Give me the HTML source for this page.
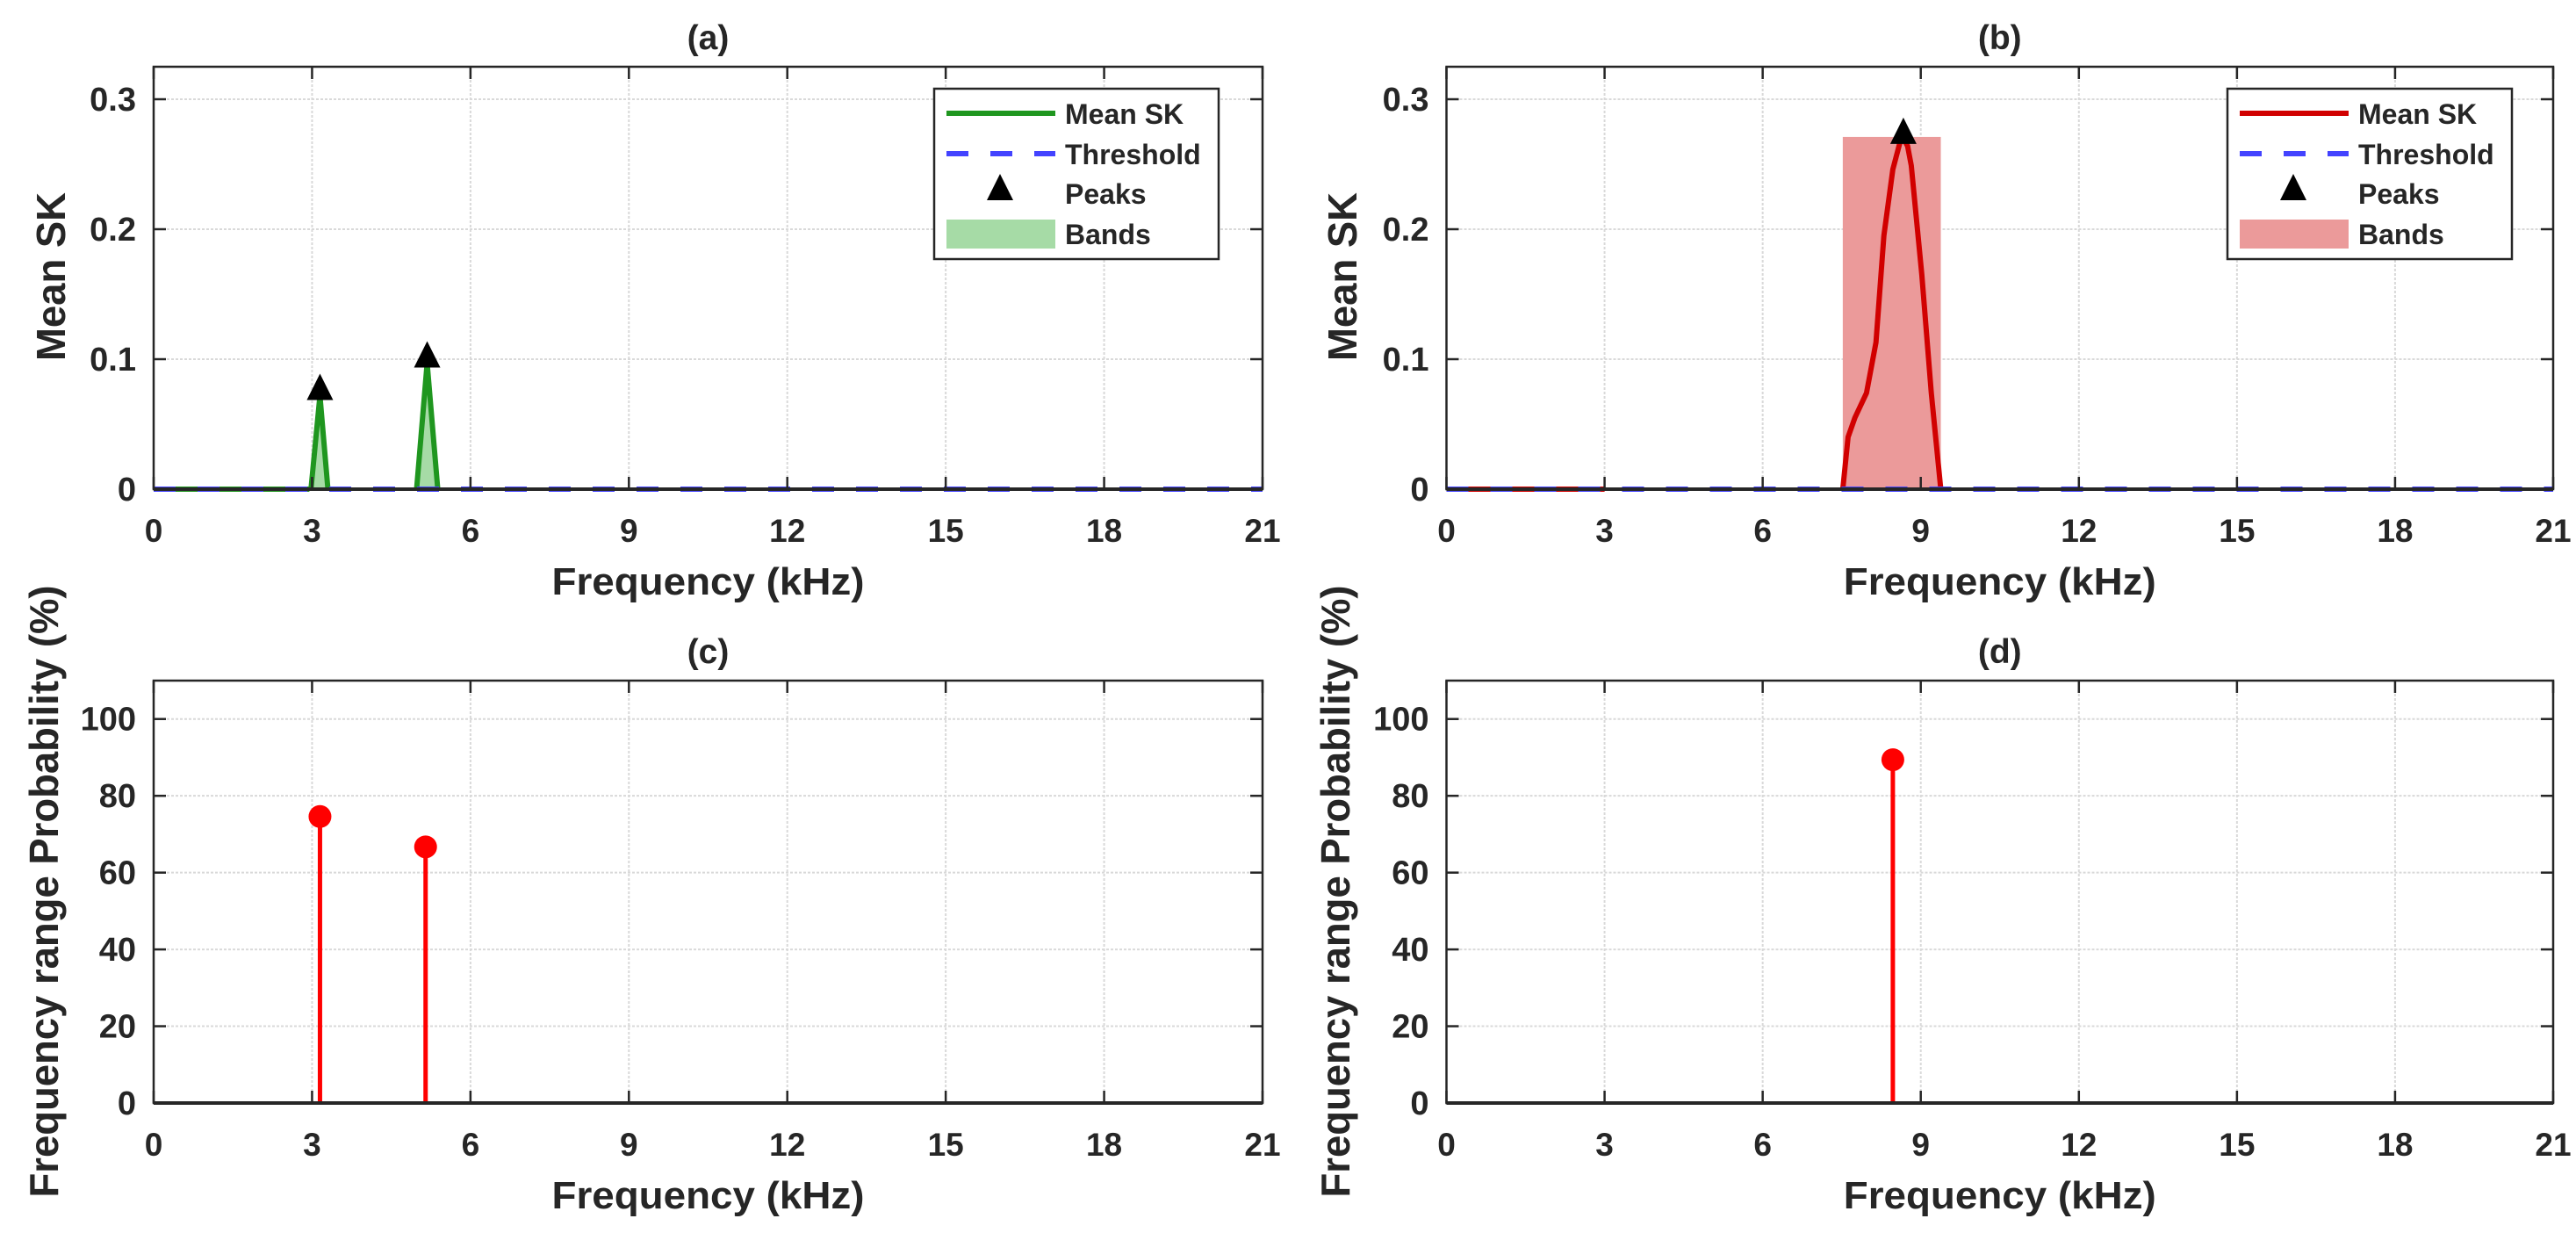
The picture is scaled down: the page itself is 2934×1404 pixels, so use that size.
<!DOCTYPE html>
<html><head><meta charset="utf-8">
<style>
html,body{margin:0;padding:0;background:#fff;}
svg{display:block;}
text{font-family:"Liberation Sans",Arial,sans-serif;font-weight:bold;fill:#262626;}
</style></head>
<body>
<svg id="fig" width="2934" height="1404" viewBox="0 0 2934 1404" xmlns="http://www.w3.org/2000/svg">
<rect width="2934" height="1404" fill="#fff"/>
</svg>
<script>
// ---- data ----
const xTicks = [0,3,6,9,12,15,18,21];
const skTicks = [0,0.1,0.2,0.3];
const skTickLabels = ["0","0.1","0.2","0.3"];
const probTicks = [0,20,40,60,80,100];
const probTickLabels = ["0","20","40","60","80","100"];
// (a) mean SK (green) segments
const aSeg1Freq = [0,2.95];
const aSeg1Val = [0,0];
const aSeg2Freq = [2.98,3.15,3.3];
const aSeg2Val = [0,0.072,0];
const aSeg3Freq = [4.98,5.18,5.38];
const aSeg3Val = [0,0.097,0];
const aPeakFreq = [3.15,5.18];
const aPeakVal = [0.074,0.099];
const aThreshold = 0;
// (b) mean SK (red)
const bSeg1Freq = [0,3.0];
const bSeg1Val = [0,0];
const bSeg2Freq = [7.52,7.62,7.75,7.97,8.15,8.3,8.47,8.6,8.67,8.75,8.82,9.02,9.2,9.38];
const bSeg2Val = [0,0.04,0.055,0.074,0.113,0.195,0.246,0.266,0.27,0.264,0.249,0.165,0.074,0];
const bBandStart = [7.52];
const bBandEnd = [9.38];
const bBandTop = [0.271];
const bPeakFreq = [8.67];
const bPeakVal = [0.271];
const bThreshold = 0;
// (c),(d) probabilities
const cFreq = [3.15,5.15];
const cProb = [74.6,66.7];
const dFreq = [8.47];
const dProb = [89.4];

const NS="http://www.w3.org/2000/svg";
const svg=document.getElementById('fig');
function mk(tag,attrs,parent){const e=document.createElementNS(NS,tag);for(const k in attrs)e.setAttribute(k,attrs[k]);(parent||svg).appendChild(e);return e;}

function makeAxes(cfg){
  const g=mk('g',{});
  
  
  const X=v=>cfg.x0+(v-0)/(21-0)*(cfg.x1-cfg.x0);
  const Y=v=>cfg.y1-(v-cfg.ymin)/(cfg.ymax-cfg.ymin)*(cfg.y1-cfg.y0);
  xTicks.forEach(t=>{const l=mk('line',{x1:X(t),x2:X(t),y1:cfg.y0,y2:cfg.y1,stroke:'#d9d9d9','stroke-width':2,'stroke-dasharray':'3,2'},g);
    
    });
  cfg.yTicks.forEach(t=>{const l=mk('line',{x1:cfg.x0,x2:cfg.x1,y1:Y(t),y2:Y(t),stroke:'#d9d9d9','stroke-width':2,'stroke-dasharray':'3,2'},g);
    
    });
  return {g,X,Y};
}
function finishAxes(cfg,ax){
  const g=ax.g,X=ax.X,Y=ax.Y;
  const box=mk('rect',{x:cfg.x0,y:cfg.y0,width:cfg.x1-cfg.x0,height:cfg.y1-cfg.y0,fill:'none',stroke:'#262626','stroke-width':2.5},g);
  
  
  mk('line',{x1:cfg.x0,x2:cfg.x1,y1:cfg.y1,y2:cfg.y1,stroke:'#262626','stroke-width':4},g);
  xTicks.forEach(t=>{
    mk('line',{x1:X(t),x2:X(t),y1:cfg.y1,y2:cfg.y1-14,stroke:'#262626','stroke-width':2.5},g);
    mk('line',{x1:X(t),x2:X(t),y1:cfg.y0,y2:cfg.y0+14,stroke:'#262626','stroke-width':2.5},g);
    const tx=mk('text',{x:X(t),y:cfg.y1+60,'font-size':37,'text-anchor':'middle'},g);
    tx.textContent=String(t);
    
    
  });
  cfg.yTicks.forEach((t,i)=>{
    mk('line',{x1:cfg.x0,x2:cfg.x0+14,y1:Y(t),y2:Y(t),stroke:'#262626','stroke-width':2.5},g);
    mk('line',{x1:cfg.x1,x2:cfg.x1-14,y1:Y(t),y2:Y(t),stroke:'#262626','stroke-width':2.5},g);
    const tx=mk('text',{x:cfg.x0-20,y:Y(t)+13,'font-size':38,'text-anchor':'end'},g);
    tx.textContent=cfg.yLabels[i];
    
    
  });
  const cx=(cfg.x0+cfg.x1)/2;
  const ti=mk('text',{x:cx,y:cfg.y0-20,'font-size':39,'text-anchor':'middle'},g);
  ti.textContent=cfg.title;
  
  
  const xl=mk('text',{x:cx,y:cfg.y1+120,'font-size':44,'text-anchor':'middle',textLength:356,lengthAdjust:'spacingAndGlyphs'},g);
  xl.textContent='Frequency (kHz)';
  
  
  const yl=mk('text',{x:0,y:0,'font-size':cfg.ylabelSize,'text-anchor':'middle',textLength:cfg.ylabelLen,lengthAdjust:'spacingAndGlyphs',transform:`translate(${cfg.ylabelX},${cfg.ylabelY}) rotate(-90)`},g);
  yl.textContent=cfg.ylabel;
  
  
}
function pathOf(fx,fy,X,Y){return fx.map((f,i)=>(i?'L':'M')+X(f).toFixed(1)+','+Y(fy[i]).toFixed(1)).join(' ');}
function tri(g,x,y,name){const p=mk('path',{d:`M${x},${y-22} L${x-15},${y+8} L${x+15},${y+8} Z`,fill:'#000'},g);
  
  }

function legend(x0,color,bandColor){
  const g=mk('g',{});
  
  
  mk('rect',{x:x0,y:101,width:324,height:194,fill:'#fff',stroke:'#262626','stroke-width':2.5},g);
  const ys=[129,175,220,266];
  const names=['Mean SK','Threshold','Peaks','Bands'];
  mk('line',{x1:x0+14,x2:x0+138,y1:ys[0],y2:ys[0],stroke:color,'stroke-width':6},g);
  mk('line',{x1:x0+14,x2:x0+138,y1:ys[1],y2:ys[1],stroke:'#4343ff','stroke-width':6,'stroke-dasharray':'25,25'},g);
  tri(g,x0+75,ys[2],'legend-peak-marker');
  mk('rect',{x:x0+14,y:ys[3]-16,width:124,height:33,fill:bandColor},g);
  names.forEach((n,i)=>{const t=mk('text',{x:x0+149,y:ys[i]+12,'font-size':32},g);t.textContent=n;
    
    });
}

// panel a
const cfgA={name:'panel-a',x0:175,x1:1438,y0:76,y1:557,ymin:0,ymax:0.325,yTicks:skTicks,yLabels:skTickLabels,title:'(a)',ylabel:'Mean SK',ylabelX:74,ylabelY:315,ylabelSize:46,ylabelLen:192};
const A=makeAxes(cfgA);
[[aSeg2Freq,aSeg2Val],[aSeg3Freq,aSeg3Val]].forEach(([f,v])=>{
  const p=mk('path',{d:pathOf(f,v,A.X,A.Y)+' Z',fill:'#a6dba6'},A.g);
  
  
});
[[aSeg1Freq,aSeg1Val],[aSeg2Freq,aSeg2Val],[aSeg3Freq,aSeg3Val]].forEach(([f,v])=>{
  const p=mk('path',{d:pathOf(f,v,A.X,A.Y),fill:'none',stroke:'#1f961f','stroke-width':6,'stroke-linejoin':'round'},A.g);
  
  
});
const thA=mk('line',{x1:A.X(0),x2:A.X(21),y1:A.Y(aThreshold),y2:A.Y(aThreshold),stroke:'#4343ff','stroke-width':6,'stroke-dasharray':'25,25'},A.g);


aPeakFreq.forEach((f,i)=>tri(A.g,A.X(f),A.Y(aPeakVal[i]),'peak-marker'));
finishAxes(cfgA,A);
legend(1064,'#1f961f','#a6dba6');

// panel b
const cfgB={name:'panel-b',x0:1647.5,x1:2908,y0:76,y1:557,ymin:0,ymax:0.325,yTicks:skTicks,yLabels:skTickLabels,title:'(b)',ylabel:'Mean SK',ylabelX:1545,ylabelY:315,ylabelSize:46,ylabelLen:192};
const B=makeAxes(cfgB);
bBandStart.forEach((s,i)=>{
  const r=mk('rect',{x:B.X(s),y:B.Y(bBandTop[i]),width:B.X(bBandEnd[i])-B.X(s),height:B.Y(0)-B.Y(bBandTop[i]),fill:'#eb9a9a'},B.g);
  
  
});
[[bSeg1Freq,bSeg1Val],[bSeg2Freq,bSeg2Val]].forEach(([f,v])=>{
  const p=mk('path',{d:pathOf(f,v,B.X,B.Y),fill:'none',stroke:'#d10000','stroke-width':6,'stroke-linejoin':'round'},B.g);
  
  
});
const thB=mk('line',{x1:B.X(0),x2:B.X(21),y1:B.Y(bThreshold),y2:B.Y(bThreshold),stroke:'#4343ff','stroke-width':6,'stroke-dasharray':'25,25'},B.g);


bPeakFreq.forEach((f,i)=>tri(B.g,B.X(f),B.Y(bPeakVal[i]),'peak-marker'));
finishAxes(cfgB,B);
legend(2537,'#d10000','#eb9a9a');

// panels c,d
function stems(cfg,freq,prob){
  const P=makeAxes(cfg);
  freq.forEach((f,i)=>{
    const l=mk('line',{x1:P.X(f),x2:P.X(f),y1:P.Y(0),y2:P.Y(prob[i]),stroke:'#ff0000','stroke-width':5},P.g);
    
    
    const c=mk('circle',{cx:P.X(f),cy:P.Y(prob[i]),r:13,fill:'#ff0000'},P.g);
    
    
  });
  finishAxes(cfg,P);
}
stems({name:'panel-c',x0:175,x1:1438,y0:775,y1:1256,ymin:0,ymax:110,yTicks:probTicks,yLabels:probTickLabels,title:'(c)',ylabel:'Frequency range Probability (%)',ylabelX:66,ylabelY:1015,ylabelSize:46,ylabelLen:697},cFreq,cProb);
stems({name:'panel-d',x0:1647.5,x1:2908,y0:775,y1:1256,ymin:0,ymax:110,yTicks:probTicks,yLabels:probTickLabels,title:'(d)',ylabel:'Frequency range Probability (%)',ylabelX:1537,ylabelY:1015,ylabelSize:46,ylabelLen:697},dFreq,dProb);
</script>
</body></html>
